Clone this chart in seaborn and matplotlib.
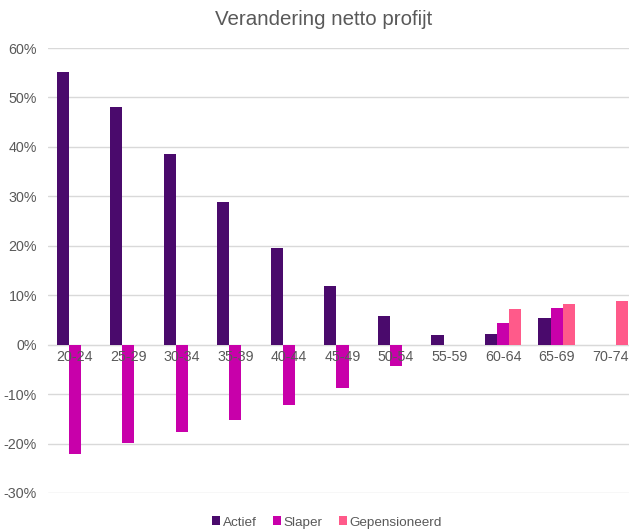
import pandas as pd
import seaborn as sns
import matplotlib.pyplot as plt
from matplotlib.ticker import FuncFormatter

# ------------------ Datos ------------------
leeftijden = ["20-24", "25-29", "30-34", "35-39", "40-44", "45-49",
              "50-54", "55-59", "60-64", "65-69", "70-74"]
actief = [55.2, 48.1, 38.5, 28.9, 19.6, 11.8, 5.7, 2.0, 2.2, 5.4, None]
slaper = [-22.2, -19.8, -17.7, -15.3, -12.3, -8.7, -4.4, 0.0, 4.4, 7.5, None]
gepensioneerd = [0.0, 0.0, 0.0, 0.0, 0.0, 0.0, 0.0, 0.0, 7.3, 8.3, 8.8]

series = ["Actief", "Slaper", "Gepensioneerd"]
kleuren = ["#4A0A6C", "#C800AA", "#FF5A8A"]

df = pd.DataFrame({
    "Leeftijd": leeftijden * 3,
    "Serie": [s for s in series for _ in leeftijden],
    "Waarde": actief + slaper + gepensioneerd,
})

sns.set_style("white")
plt.rcParams["font.family"] = ["Liberation Sans", "DejaVu Sans"]

fig = plt.figure(figsize=(6.29, 5.29), dpi=100)
ax = fig.add_axes([48 / 629, 36 / 529, 589 / 629, 445 / 529])

sns.barplot(data=df, x="Leeftijd", y="Waarde", hue="Serie", order=leeftijden,
            hue_order=series, palette=kleuren, width=0.68, ax=ax,
            saturation=1, errorbar=None, linewidth=0, zorder=2)

ax.set_ylim(-30, 60)
ax.set_yticks(range(-30, 61, 10))
ax.yaxis.set_major_formatter(FuncFormatter(lambda v, p: f"{v:.0f}%"))
ax.set_xlim(-0.5, len(leeftijden) - 0.5)
ax.grid(axis="y", color="#D9D9D9", linewidth=1, zorder=0)
ax.set_axisbelow(True)

for s in ["top", "right", "left"]:
    ax.spines[s].set_visible(False)
ax.spines["bottom"].set_position(("data", 0))
ax.spines["bottom"].set_color("#D9D9D9")
ax.spines["bottom"].set_zorder(1)

ax.tick_params(axis="both", length=0, colors="#595959", labelsize=10.3)
ax.tick_params(axis="x", pad=4)
ax.tick_params(axis="y", pad=8)
ax.xaxis.set_zorder(5)  # labels boven de staven, zoals in Excel
ax.set_xlabel("")
ax.set_ylabel("")

fig.suptitle("Verandering netto profijt", x=0.515, y=0.982, fontsize=14.8, color="#595959")

handles, labels = ax.get_legend_handles_labels()
ax.legend_.remove()
fig.legend(handles, labels, loc="lower center", bbox_to_anchor=(0.52, -0.022), ncol=3,
           frameon=False, fontsize=9.7, handlelength=0.6, handleheight=0.6,
           handletextpad=0.2, columnspacing=1.2, labelcolor="#595959")

fig.savefig("out.png", dpi=100)
